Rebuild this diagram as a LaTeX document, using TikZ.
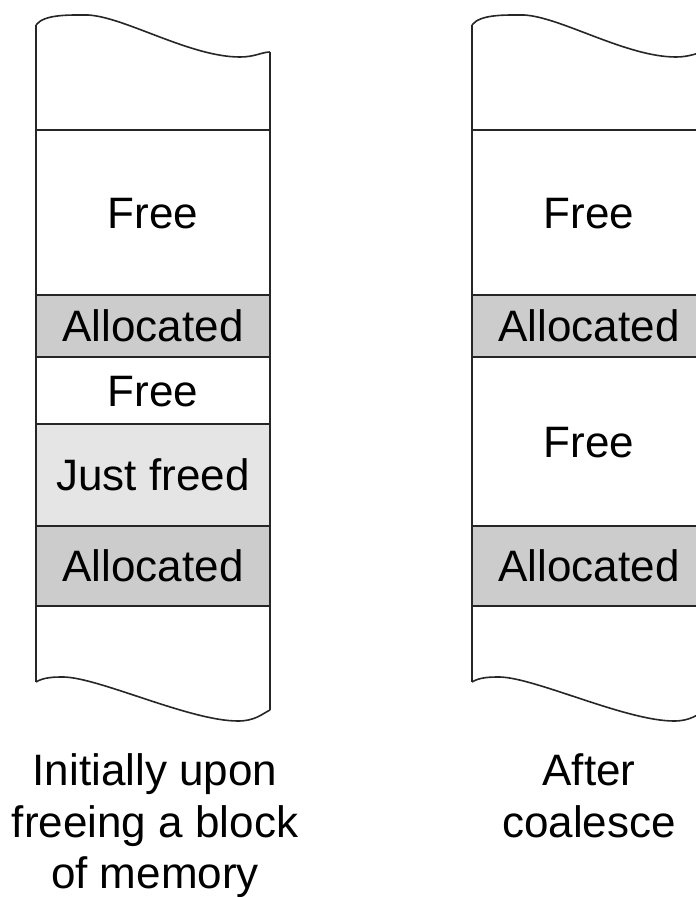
\documentclass[tikz,border=0pt]{standalone}
\usepackage{fontspec}
\setmainfont{Liberation Sans}
\tikzset{
  mem/.style={line width=1.6pt, draw=black!85},
  alloc/.style={fill=black!20},
  justfreed/.style={fill=black!10},
  lbl/.style={anchor=base, inner sep=0pt, font=\fontsize{44}{52}\selectfont},
}
\begin{document}
\begin{tikzpicture}[x=1pt,y=-1pt]
\useasboundingbox (0,0) rectangle (696,897);
\clip (0,0) rectangle (696,897);
% ---------- left column ----------
\begin{scope}[xshift=0pt]
  \fill[alloc] (36,295) rectangle (270,357);
  \fill[justfreed] (36,424) rectangle (270,526);
  \fill[alloc] (36,526) rectangle (270,606);
  \draw[mem] (36,25) .. controls (44,14) and (70,15) .. (88,15)
     .. controls (125,17) and (190,57) .. (240,57)
     .. controls (255,57) and (262,52) .. (270,52);
  \draw[mem] (36,682) .. controls (44,677) and (55,677) .. (64,677)
     .. controls (100,678) and (190,721) .. (238,721)
     .. controls (255,721) and (262,714) .. (270,710);
  \draw[mem] (36,25) -- (36,682);
  \draw[mem] (270,52) -- (270,710);
  \foreach \yy in {130,295,357,424,526,606} \draw[mem] (36,\yy) -- (270,\yy);
  \node[lbl] (lf1) at (153,228) {Free};
  \node[lbl] (la1) at (153,341.5) {Allocated};
  \node[lbl] (lf2) at (153,406) {Free};
  \node[lbl] (ljf) at (153,490.5) {Just freed};
  \node[lbl] (la2) at (153,581.5) {Allocated};
  \node[lbl] (cap1) at (155,785) {Initially upon};
  \node[lbl] (cap2) at (155,837) {freeing a block};
  \node[lbl] (cap3) at (155,888) {of memory};
\end{scope}
% ---------- right column ----------
\begin{scope}[xshift=436pt]
  \fill[alloc] (36,295) rectangle (270,357);
  \fill[alloc] (36,526) rectangle (270,606);
  \draw[mem] (36,25) .. controls (44,14) and (70,15) .. (88,15)
     .. controls (125,17) and (190,57) .. (240,57)
     .. controls (255,57) and (262,52) .. (270,52);
  \draw[mem] (36,682) .. controls (44,677) and (55,677) .. (64,677)
     .. controls (100,678) and (190,721) .. (238,721)
     .. controls (255,721) and (262,714) .. (270,710);
  \draw[mem] (36,25) -- (36,682);
  \draw[mem] (270,52) -- (270,710);
  \foreach \yy in {130,295,357,526,606} \draw[mem] (36,\yy) -- (270,\yy);
  \node[lbl] (rf1) at (153,228) {Free};
  \node[lbl] (ra1) at (153,341.5) {Allocated};
  \node[lbl] (rf2) at (153,457) {Free};
  \node[lbl] (ra2) at (153,581.5) {Allocated};
  \node[lbl] (rcap1) at (153,785) {After};
  \node[lbl] (rcap2) at (153,837) {coalesce};
\end{scope}
\end{tikzpicture}
\end{document}
